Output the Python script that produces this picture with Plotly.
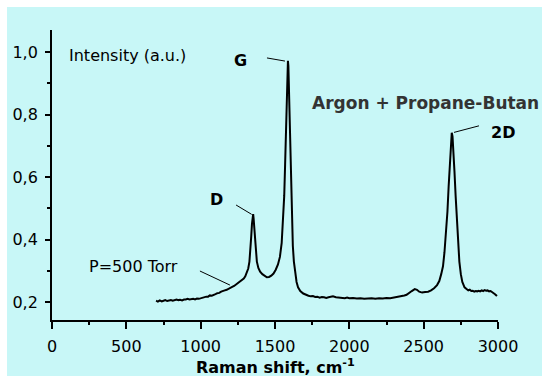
import plotly.graph_objects as go

# Raman spectrum
shift = [700, 712, 725, 738, 750, 762, 775, 788, 800, 812, 825, 838, 850, 862, 875, 888,
         900, 912, 925, 938, 950, 962, 975, 988, 1000, 1012, 1025, 1038, 1050, 1062,
         1075, 1088, 1100, 1112, 1125, 1138, 1150, 1162, 1175, 1188, 1200, 1212, 1225,
         1238, 1250, 1260, 1270, 1280, 1290, 1300, 1310, 1320,
         1328, 1334, 1340, 1345, 1350, 1353, 1356, 1360, 1365, 1370, 1378, 1388, 1400,
         1415, 1430, 1445, 1460, 1475, 1490, 1505, 1520, 1533, 1545, 1555, 1562, 1568,
         1574, 1579, 1584, 1587, 1590, 1594, 1598, 1603, 1608, 1614, 1620, 1627, 1635,
         1645, 1655, 1670, 1690, 1710, 1725, 1740, 1755, 1770, 1785, 1800, 1815, 1830,
         1845, 1860, 1875, 1890, 1910, 1925, 1940, 1955, 1970, 1985, 2000, 2025, 2050,
         2075, 2100, 2125, 2150, 2175, 2200, 2225, 2250, 2275, 2300, 2320, 2340, 2355,
         2370, 2385, 2400, 2420, 2440, 2455, 2470, 2490, 2510, 2530, 2550, 2570, 2590,
         2605, 2618, 2630, 2640, 2650, 2660, 2668, 2676, 2683, 2689, 2694, 2700, 2707,
         2715, 2722, 2730, 2740, 2750, 2760, 2775, 2790, 2800, 2810, 2820, 2830, 2840,
         2850, 2860, 2870, 2880, 2890, 2900, 2910, 2920, 2930, 2940, 2950, 2965, 2980, 2993]
intensity = [0.205, 0.202, 0.206, 0.203, 0.205, 0.207, 0.204, 0.206, 0.207, 0.205, 0.206,
             0.209, 0.207, 0.208, 0.206, 0.209, 0.209, 0.211, 0.209, 0.210, 0.211, 0.209,
             0.212, 0.211, 0.213, 0.215, 0.215, 0.218, 0.218, 0.222, 0.221, 0.225, 0.226,
             0.229, 0.230, 0.234, 0.235, 0.238, 0.240, 0.244, 0.246, 0.249, 0.252, 0.257,
             0.259, 0.264, 0.267, 0.271, 0.276, 0.283, 0.293, 0.308,
             0.330, 0.360, 0.410, 0.450, 0.476, 0.482, 0.468, 0.440, 0.400, 0.362, 0.330,
             0.310, 0.298, 0.290, 0.284, 0.280, 0.281, 0.285, 0.292, 0.304, 0.321, 0.345,
             0.390, 0.460, 0.540, 0.640, 0.760, 0.870, 0.950, 0.972, 0.955, 0.880, 0.780,
             0.660, 0.550, 0.450, 0.380, 0.330, 0.295, 0.265, 0.248, 0.236, 0.228, 0.223,
             0.221, 0.219, 0.220, 0.217, 0.218, 0.215, 0.217, 0.216, 0.214, 0.216, 0.217,
             0.219, 0.216, 0.215, 0.216, 0.214, 0.213, 0.215, 0.213, 0.214, 0.212, 0.213,
             0.211, 0.212, 0.213, 0.211, 0.213, 0.212, 0.214, 0.213, 0.215, 0.216, 0.218,
             0.219, 0.222, 0.224, 0.228, 0.236, 0.242, 0.240, 0.234, 0.231, 0.233, 0.234,
             0.238, 0.245, 0.255, 0.268, 0.290, 0.315, 0.360, 0.420, 0.490, 0.570, 0.650,
             0.710, 0.742, 0.730, 0.690, 0.620, 0.540, 0.470, 0.400, 0.330, 0.290, 0.265,
             0.248, 0.242, 0.238, 0.240, 0.236, 0.237, 0.234, 0.236, 0.235, 0.237, 0.235,
             0.238, 0.236, 0.239, 0.237, 0.238, 0.235, 0.236, 0.232, 0.226, 0.220, 0.215]

x_ticks = [0, 500, 1000, 1500, 2000, 2500, 3000]
x_labels = ["0", "500", "1000", "1500", "2000", "2500", "3000"]
y_ticks = [0.2, 0.4, 0.6, 0.8, 1.0]
y_labels = ["0,2", "0,4", "0,6", "0,8", "1,0"]

BG = "#c8f7f7"
FONT = "DejaVu Sans"

fig = go.Figure()
fig.add_trace(go.Scatter(x=shift, y=intensity, mode="lines",
                         line=dict(color="black", width=2), showlegend=False,
                         hoverinfo="skip"))

ann = [
    dict(x=511, y=0.990, text="Intensity (a.u.)", bold=False, color="black", size=16),
    dict(x=1271, y=0.974, text="G", bold=True, color="black", size=16),
    dict(x=1108, y=0.530, text="D", bold=True, color="black", size=16),
    dict(x=545, y=0.313, text="P=500 Torr", bold=False, color="black", size=16),
    dict(x=2509, y=0.837, text="Argon + Propane-Butan", bold=True, color="#333333", size=17),
]
for a in ann:
    t = "<b>%s</b>" % a["text"] if a["bold"] else a["text"]
    fig.add_annotation(x=a["x"], y=a["y"], xref="x", yref="y", text=t, showarrow=False,
                       font=dict(family=FONT, size=a["size"], color=a["color"]),
                       xanchor="center", yanchor="middle")

# "2D" label sits right of the axis end, so it is placed in paper units
fig.add_annotation(x=1.0123, y=0.744, xref="paper", yref="y", text="<b>2D</b>",
                   showarrow=False, font=dict(family=FONT, size=16, color="black"),
                   xanchor="center", yanchor="middle")

leaders = [
    (1446, 0.981, 1567, 0.971),
    (1238, 0.511, 1343, 0.481),
    (2872, 0.764, 2704, 0.743),
    (995, 0.300, 1197, 0.255),
]
for x0, y0, x1, y1 in leaders:
    fig.add_shape(type="line", xref="x", yref="y", x0=x0, y0=y0, x1=x1, y1=y1,
                  line=dict(color="black", width=1))

# axis title
fig.add_annotation(x=0.5, y=-0.159, xref="paper", yref="paper",
                   text="<b>Raman shift, cm<sup>-1</sup></b>", showarrow=False,
                   font=dict(family=FONT, size=16, color="black"),
                   xanchor="center", yanchor="middle")

# white frame strips at top and left
fig.add_shape(type="rect", xref="paper", yref="paper", x0=-0.2, x1=-0.1009, y0=-0.3, y1=1.2,
              fillcolor="white", line=dict(width=0), layer="below")
fig.add_shape(type="rect", xref="paper", yref="paper", x0=-0.2, x1=1.2, y0=1.0793, y1=1.2,
              fillcolor="white", line=dict(width=0), layer="below")

fig.update_layout(
    width=542, height=376,
    margin=dict(l=52, r=44, t=30, b=56),
    paper_bgcolor=BG, plot_bgcolor=BG,
    font=dict(family=FONT, size=16, color="black"),
    xaxis=dict(range=[0, 3000], tickvals=x_ticks, ticktext=x_labels,
               showline=True, linecolor="black", linewidth=1.8, showgrid=False,
               zeroline=False, ticks="outside", ticklen=7, tickwidth=1.5,
               tickcolor="black", ticklabelstandoff=4,
               minor=dict(tickvals=[250, 750, 1250, 1750, 2250, 2750], ticks="outside",
                          ticklen=3, tickwidth=1.5, tickcolor="black", showgrid=False)),
    yaxis=dict(range=[0.1434, 1.0703], tickvals=y_ticks, ticktext=y_labels,
               showline=True, linecolor="black", linewidth=1.8, showgrid=False,
               zeroline=False, ticks="outside", ticklen=5, tickwidth=1.5,
               tickcolor="black", ticklabelstandoff=4,
               minor=dict(tickvals=[0.3, 0.5, 0.7, 0.9], ticks="outside",
                          ticklen=3, tickwidth=1.5, tickcolor="black", showgrid=False)),
)

fig.write_html("out.html")
